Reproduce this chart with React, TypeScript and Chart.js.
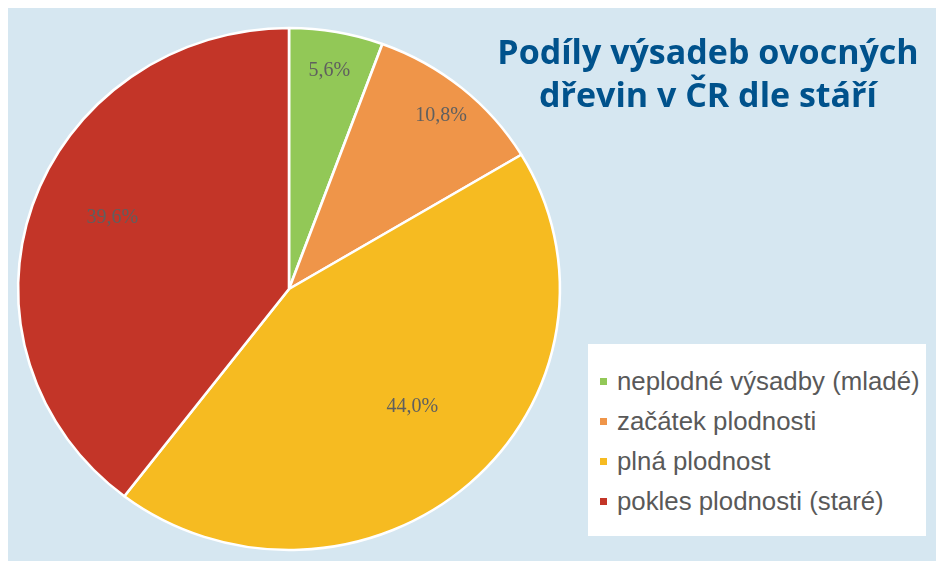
import React, { useEffect, useRef } from "react";
import { Chart, registerables } from "chart.js";

Chart.register(...registerables);

const categories = [
  "neplodné výsadby (mladé)",
  "začátek plodnosti",
  "plná plodnost",
  "pokles plodnosti (staré)",
];
const shares = [5.6, 10.8, 44.0, 39.6];
const sliceColors = ["#92c857", "#ef9549", "#f6bb21", "#c33528"];
const titleLines = ["Podíly výsadeb ovocných", "dřevin v ČR dle stáří"];

// label placement (fraction of radius, angle offset in degrees) – styling only
const labelPlacement: [number, number][] = [
  [0.85, 0],
  [0.87, 0.6],
  [0.64, -3.6],
  [0.707, 4.1],
];
const STRETCH_X = 1.038;
const BG = "#d6e7f1";

const stretchAndLabels = {
  id: "stretchAndLabels",
  beforeDatasetsDraw(chart: any) {
    const arc = chart.getDatasetMeta(0).data[0];
    if (!arc) return;
    const ctx = chart.ctx;
    ctx.save();
    ctx.translate(arc.x, arc.y);
    ctx.scale(STRETCH_X, 1);
    ctx.translate(-arc.x, -arc.y);
  },
  afterDatasetsDraw(chart: any) {
    const ctx = chart.ctx;
    ctx.restore();
    const meta = chart.getDatasetMeta(0);
    ctx.save();
    ctx.font = "20px 'Liberation Serif', 'Times New Roman', serif";
    ctx.fillStyle = "#5f5f5f";
    ctx.textAlign = "center";
    ctx.textBaseline = "middle";
    meta.data.forEach((a: any, i: number) => {
      const [frac, offDeg] = labelPlacement[i];
      const mid = (a.startAngle + a.endAngle) / 2 + (offDeg * Math.PI) / 180;
      const r = a.outerRadius * frac;
      const x = a.x + Math.cos(mid) * r * STRETCH_X;
      const y = a.y + Math.sin(mid) * r;
      const txt = shares[i].toFixed(1).replace(".", ",") + "%";
      ctx.fillText(txt, x, y);
    });
    ctx.restore();
  },
};

export default function App() {
  const ref = useRef<HTMLCanvasElement | null>(null);
  useEffect(() => {
    if (!ref.current) return;
    const chart = new Chart(ref.current, {
      type: "pie",
      data: {
        labels: categories,
        datasets: [
          {
            data: shares,
            backgroundColor: sliceColors,
            borderColor: "#ffffff",
            borderWidth: 2.5,
            hoverOffset: 0,
          },
        ],
      },
      options: {
        responsive: false,
        animation: false,
        radius: 261,
        layout: { padding: { top: 9, right: 374, left: 0, bottom: 0 } },
        plugins: {
          legend: { display: false },
          tooltip: { enabled: false },
          title: { display: false },
        },
        events: [],
      } as any,
      plugins: [stretchAndLabels],
    });
    return () => chart.destroy();
  }, []);

  return (
    <div
      style={{
        position: "relative",
        width: 936,
        height: 553,
        background: BG,
        overflow: "hidden",
      }}
    >
      <canvas
        ref={ref}
        width={936}
        height={553}
        style={{ position: "absolute", left: 0, top: 0 }}
      />
      <div
        style={{
          position: "absolute",
          left: 460,
          top: 22,
          width: 480,
          textAlign: "center",
          fontFamily: "'Open Sans', sans-serif",
          fontWeight: 700,
          fontSize: 34,
          lineHeight: "43px",
          color: "#00528c",
          whiteSpace: "nowrap",
        }}
      >
        {titleLines.map((t, i) => (
          <div key={i}>{t}</div>
        ))}
      </div>
      <div
        style={{
          position: "absolute",
          left: 580,
          top: 336,
          width: 338,
          height: 192,
          background: "#ffffff",
          paddingTop: 17,
          boxSizing: "border-box",
          fontFamily: "'Liberation Sans', Arial, sans-serif",
          fontSize: 25.8,
          color: "#595959",
        }}
      >
        {categories.map((c, i) => (
          <div
            key={i}
            style={{
              position: "relative",
              height: 40,
              lineHeight: "40px",
              paddingLeft: 29,
              whiteSpace: "nowrap",
            }}
          >
            <span
              style={{
                position: "absolute",
                left: 12,
                top: 17,
                width: 7,
                height: 7,
                background: sliceColors[i],
              }}
            />
            {c}
          </div>
        ))}
      </div>
    </div>
  );
}
